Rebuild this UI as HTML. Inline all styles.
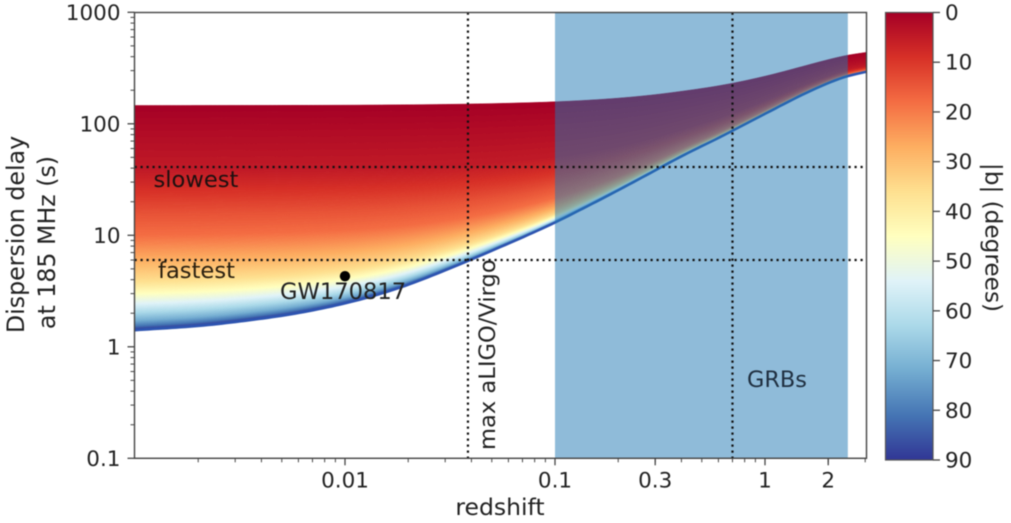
<!DOCTYPE html>
<html lang="en">
<head>
<meta charset="utf-8">
<title>Dispersion delay vs redshift</title>
<style>
html,body{margin:0;padding:0;background:#fff;width:1011px;height:523px;overflow:hidden}
svg{display:block;filter:blur(0.5px)}
text{font-family:"DejaVu Sans","Liberation Sans",sans-serif;fill:#222}
</style>
</head>
<body>
<svg id="chart" xmlns="http://www.w3.org/2000/svg" width="1011" height="523" viewBox="0 0 1011 523"></svg>
<script>
// ---- data ----
const curveRedshift = [0.001, 0.002, 0.0034, 0.0059, 0.0106, 0.0183, 0.0316, 0.0562, 0.0947, 0.1358, 0.197, 0.283, 0.407, 0.611, 1.018, 1.468, 1.968, 2.449, 3.04];
const fastestDelay = [1.41, 1.54, 1.72, 2.0, 2.52, 3.4, 5.05, 8.0, 12.4, 17.4, 25, 36, 52, 76, 125, 178, 229, 266, 293];
const latitudeLevels = [0, 2, 5, 9, 14, 18, 27, 36, 45, 54, 63, 72, 81, 90];
const galacticDelay = [146, 87, 38, 25, 15.6, 10, 6.0, 3.81, 2.975, 2.42, 2.01, 1.70, 1.52, 1.41];
const colormapStops = ['#a50026','#d73027','#f46d43','#fdae61','#fee090','#ffffbf','#e0f3f8','#abd9e9','#74add1','#4575b4','#313695'];
const yTickValues = [0.1, 1, 10, 100, 1000];
const yTickLabels = ['0.1', '1', '10', '100', '1000'];
const xTickValues = [0.01, 0.1, 0.3, 1, 2];
const xTickLabels = ['0.01', '0.1', '0.3', '1', '2'];
const colorbarTicks = [0, 10, 20, 30, 40, 50, 60, 70, 80, 90];
const grbRange = [0.1, 2.48];
const referenceDelays = [41, 6];
const referenceRedshifts = [0.0385, 0.7];
const eventRedshift = [0.01];
const eventDelay = [4.3];

// ---- axis functions ----
const NS = 'http://www.w3.org/2000/svg';
const svg = document.getElementById('chart');
const AX = {l: 134.5, r: 866.5, t: 12.5, b: 458.3};
const CB = {l: 885.5, r: 933, t: 12.5, b: 460};
const xScale = z => 345 + (Math.log10(z) + 2) * 210;
const yScale = d => AX.b - (Math.log10(d) + 1) * 111.5;
const cbScale = b => CB.t + (b / 90) * (CB.b - CB.t);

function mk(tag, attrs, parent) {
  const el = document.createElementNS(NS, tag);
  for (const k in attrs) el.setAttribute(k, attrs[k]);
  (parent || svg).appendChild(el);
  return el;
}
// smooth (Catmull-Rom) interpolation in log-log space
function smoothLog(xs, ys, x) {
  const X = xs.map(Math.log), Y = ys.map(Math.log), q = Math.log(x), n = X.length;
  let i = 0;
  while (i < n - 2 && q > X[i + 1]) i++;
  const h = X[i + 1] - X[i], t = (q - X[i]) / h;
  const m0 = i > 0 ? (Y[i + 1] - Y[i - 1]) / (X[i + 1] - X[i - 1]) : (Y[1] - Y[0]) / (X[1] - X[0]);
  const m1 = i < n - 2 ? (Y[i + 2] - Y[i]) / (X[i + 2] - X[i]) : (Y[n - 1] - Y[n - 2]) / (X[n - 1] - X[n - 2]);
  const t2 = t * t, t3 = t2 * t;
  return Math.exp((2*t3 - 3*t2 + 1) * Y[i] + (t3 - 2*t2 + t) * h * m0 + (-2*t3 + 3*t2) * Y[i + 1] + (t3 - t2) * h * m1);
}
function galAt(b) {
  for (let i = 0; i < latitudeLevels.length - 1; i++) {
    if (b <= latitudeLevels[i + 1]) {
      const t = (b - latitudeLevels[i]) / (latitudeLevels[i + 1] - latitudeLevels[i]);
      return Math.exp(Math.log(galacticDelay[i]) + t * (Math.log(galacticDelay[i + 1]) - Math.log(galacticDelay[i])));
    }
  }
  return galacticDelay[galacticDelay.length - 1];
}
function hex(c) { return [1, 3, 5].map(i => parseInt(c.substr(i, 2), 16)); }
function colorAt(b) {
  const p = Math.min(0.9999, b / 90) * (colormapStops.length - 1);
  const i = Math.floor(p), t = p - i;
  const a = hex(colormapStops[i]), c = hex(colormapStops[i + 1]);
  return 'rgb(' + a.map((v, k) => Math.round(v + t * (c[k] - v))).join(',') + ')';
}
const zMin = curveRedshift[0];
const zMax = curveRedshift[curveRedshift.length - 1];
const gridZ = [];
for (let i = 0; i <= 160; i++) gridZ.push(Math.pow(10, Math.log10(zMin) + (i / 160) * (Math.log10(zMax) - Math.log10(zMin))));
const gridBottom = gridZ.map(z => smoothLog(curveRedshift, fastestDelay, z));
const baseDelay = galacticDelay[galacticDelay.length - 1];
const delayAtIndex = (b, i) => galAt(b) + gridBottom[i] - baseDelay;

// ---- clip for plot ----
const defs = mk('defs', {});
const clip = mk('clipPath', {id: 'plotClip'}, defs);
mk('rect', {x: AX.l, y: AX.t, width: AX.r - AX.l, height: AX.b - AX.t}, clip);

// ---- delay bands ----
const bandGroup = mk('g', {'clip-path': 'url(#plotClip)'});


for (let b = 0; b < 90; b += 0.5) {
  const up = gridZ.map((z, i) => xScale(z).toFixed(1) + ',' + yScale(delayAtIndex(b, i)).toFixed(2));
  const dn = gridZ.map((z, i) => xScale(z).toFixed(1) + ',' + yScale(delayAtIndex(b + 0.5, i)).toFixed(2)).reverse();
  const col = colorAt(b + 0.25);
  const band = mk('polygon', {points: up.concat(dn).join(' '), fill: col, stroke: col, 'stroke-width': 0.5}, bandGroup);
  
  
}

// ---- fastest line ----
const fastLine = mk('polyline', {
  points: gridZ.map((z, i) => xScale(z).toFixed(1) + ',' + yScale(gridBottom[i]).toFixed(2)).join(' '),
  fill: 'none', stroke: '#2d54b0', 'stroke-width': 2.6, 'clip-path': 'url(#plotClip)'
});



// ---- GRB span ----
const grb = mk('rect', {
  x: xScale(grbRange[0]), y: AX.t, width: xScale(grbRange[1]) - xScale(grbRange[0]), height: AX.b - AX.t,
  fill: '#1f77b4', 'fill-opacity': 0.5
});



// ---- reference lines ----
referenceDelays.forEach(d => {
  const l = mk('line', {x1: AX.l, x2: AX.r, y1: yScale(d), y2: yScale(d), stroke: '#111', 'stroke-width': 2.2, 'stroke-dasharray': '2.2 3.8'});
  
  
});
referenceRedshifts.forEach(z => {
  const l = mk('line', {x1: xScale(z), x2: xScale(z), y1: AX.t, y2: AX.b, stroke: '#111', 'stroke-width': 2.2, 'stroke-dasharray': '2.2 3.8'});
  
  
});

// ---- event point ----
const pt = mk('circle', {cx: xScale(eventRedshift[0]), cy: yScale(eventDelay[0]), r: 5.2, fill: '#000'});



// ---- axes frame ----
const frame = mk('rect', {x: AX.l, y: AX.t, width: AX.r - AX.l, height: AX.b - AX.t, fill: 'none', stroke: '#444', 'stroke-width': 1.4});



// ---- ticks ----
const TICK = '#444';
yTickValues.forEach((v, i) => {
  const t = mk('line', {x1: AX.l - 7, x2: AX.l, y1: yScale(v), y2: yScale(v), stroke: TICK, 'stroke-width': 1.3});
  
  
  const lb = mk('text', {x: AX.l - 14, y: yScale(v) + 7.5, 'text-anchor': 'end', 'font-size': 21.5});
  lb.textContent = yTickLabels[i];
  
  
  if (v < 1000) for (let m = 2; m <= 9; m++) {
    const mt = mk('line', {x1: AX.l - 4, x2: AX.l, y1: yScale(v * m), y2: yScale(v * m), stroke: TICK, 'stroke-width': 1});
    
    
  }
});
xTickValues.forEach((v, i) => {
  const t = mk('line', {x1: xScale(v), x2: xScale(v), y1: AX.b, y2: AX.b + 7, stroke: TICK, 'stroke-width': 1.3});
  
  
  const lb = mk('text', {x: xScale(v), y: AX.b + 29, 'text-anchor': 'middle', 'font-size': 21.5});
  lb.textContent = xTickLabels[i];
  
  
});
[0.001, 0.01, 0.1, 1].forEach(dec => {
  for (let m = 2; m <= 9; m++) {
    const z = dec * m;
    if (z > zMax || z <= zMin) continue;
    const mt = mk('line', {x1: xScale(z), x2: xScale(z), y1: AX.b, y2: AX.b + 4, stroke: TICK, 'stroke-width': 1});
    
    
  }
});

// ---- text annotations ----
function label(txt, name, attrs) {
  const el = mk('text', attrs);
  el.textContent = txt;
  
  
  return el;
}
label('slowest', 'slowest-annotation', {x: 153.5, y: 187, 'font-size': 22.6, style: 'fill:#1c1010'});
label('fastest', 'fastest-annotation', {x: 158, y: 278, 'font-size': 22.6, style: 'fill:#2a2010'});
label('GW170817', 'gw170817-label', {x: 280, y: 299, 'font-size': 22.6});
label('GRBs', 'grb-label', {x: 747, y: 387, 'font-size': 22.4, style: 'fill:#1f2f40'});
label('max aLIGO/Virgo', 'aligo-virgo-label', {x: 0, y: 0, 'font-size': 22.6, transform: 'translate(495,450) rotate(-90)'});
label('redshift', 'x-axis-title', {x: 500, y: 515, 'text-anchor': 'middle', 'font-size': 23.5});
label('Dispersion delay', 'y-axis-title-line-1', {x: 0, y: 0, 'text-anchor': 'middle', 'font-size': 23.7, transform: 'translate(24,234.5) rotate(-90)'});
label('at 185 MHz (s)', 'y-axis-title-line-2', {x: 0, y: 0, 'text-anchor': 'middle', 'font-size': 23.7, transform: 'translate(55,242.5) rotate(-90)'});

// ---- colorbar ----
const grad = mk('linearGradient', {id: 'cbGrad', x1: 0, y1: 0, x2: 0, y2: 1}, defs);
colormapStops.forEach((c, i) => {
  mk('stop', {offset: i / (colormapStops.length - 1), 'stop-color': c}, grad);
});
const cb = mk('rect', {x: CB.l, y: CB.t, width: CB.r - CB.l, height: CB.b - CB.t, fill: 'url(#cbGrad)', stroke: '#555', 'stroke-width': 1.2});


colorbarTicks.forEach(v => {
  const t = mk('line', {x1: CB.r, x2: CB.r + 7, y1: cbScale(v), y2: cbScale(v), stroke: TICK, 'stroke-width': 1.3});
  
  
  const lb = mk('text', {x: CB.r + 12, y: cbScale(v) + 7.5, 'font-size': 21.5});
  lb.textContent = String(v);
  
  
});
label('|b| (degrees)', 'colorbar-title', {x: 0, y: 0, 'text-anchor': 'middle', 'font-size': 23.2, transform: 'translate(985.5,237.5) rotate(90)'});
</script>
</body>
</html>
